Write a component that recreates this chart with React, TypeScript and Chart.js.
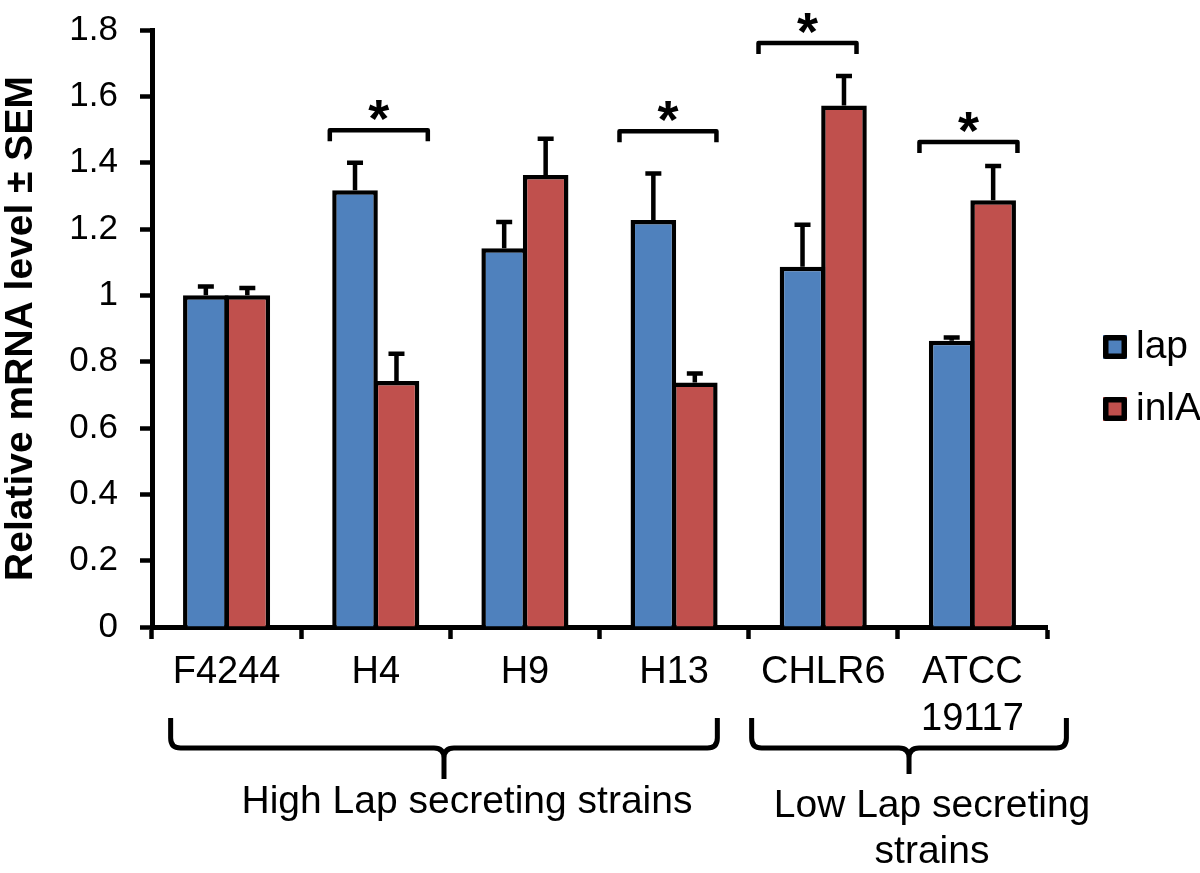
import React, { useEffect, useRef } from 'react';
import { Chart, registerables } from 'chart.js';

Chart.register(...registerables);

// ---------- data ----------
const categories: (string | string[])[] = ['F4244', 'H4', 'H9', 'H13', 'CHLR6', ['ATCC', '19117']];
const seriesNames = ['lap', 'inlA'];
const lapValues = [1.0, 1.317, 1.142, 1.227, 1.086, 0.863];
const inlAValues = [1.0, 0.742, 1.363, 0.737, 1.572, 1.287];
const lapSem = [0.027, 0.083, 0.079, 0.14, 0.127, 0.01];
const inlASem = [0.022, 0.082, 0.109, 0.027, 0.089, 0.103];
const yTickLabels = ['0', '0.2', '0.4', '0.6', '0.8', '1', '1.2', '1.4', '1.6', '1.8'];
const yTitle = 'Relative mRNA level \u00B1 SEM';
const sigIndex = [1, 3, 4, 5];
const sigLevel = [1.498, 1.495, 1.761, 1.462];
const sigMark = '*';
const groupLabels = [['High Lap secreting strains'], ['Low Lap secreting', 'strains']];
const groupFirst = [0, 4];
const groupLast = [3, 5];

// ---------- styles / layout ----------
const FONT = '"Liberation Sans", Arial, Helvetica, sans-serif';
const BLUE = '#4F81BD';
const RED = '#C0504D';
const sigSpans = [
  [-0.308, 0.349],
  [-0.366, 0.284],
  [-0.434, 0.223],
  [-0.355, 0.302],
];
const groupSpans = [
  [-0.375, 0.29],
  [-0.48, 0.63],
];
const groupTipDepth = [31, 26];

const annotationsPlugin = {
  id: 'annotations',
  afterDatasetsDraw(chart: any) {
    const ctx = chart.ctx as CanvasRenderingContext2D;
    const y = chart.scales.y;
    const sems = [lapSem, inlASem];
    ctx.save();
    ctx.strokeStyle = '#000';
    ctx.lineWidth = 4.5;
    chart.data.datasets.forEach((ds: any, di: number) => {
      const meta = chart.getDatasetMeta(di);
      meta.data.forEach((bar: any, i: number) => {
        const v = ds.data[i];
        const top = y.getPixelForValue(v);
        const errTop = y.getPixelForValue(v + sems[di][i]);
        ctx.beginPath();
        ctx.moveTo(bar.x, top);
        ctx.lineTo(bar.x, errTop);
        ctx.moveTo(bar.x - 8, errTop);
        ctx.lineTo(bar.x + 8, errTop);
        ctx.stroke();
      });
    });
    ctx.restore();
  },
  afterDraw(chart: any) {
    const ctx = chart.ctx as CanvasRenderingContext2D;
    const x = chart.scales.x;
    const y = chart.scales.y;
    const catW = x.getPixelForValue(1) - x.getPixelForValue(0);
    ctx.save();
    ctx.strokeStyle = '#000';
    ctx.fillStyle = '#000';
    ctx.lineWidth = 4.5;
    ctx.lineJoin = 'round';
    ctx.lineCap = 'butt';

    // significance brackets
    sigIndex.forEach((idx, k) => {
      const cx = x.getPixelForValue(idx);
      const l = cx + sigSpans[k][0] * catW;
      const r = cx + sigSpans[k][1] * catW;
      const yt = y.getPixelForValue(sigLevel[k]);
      ctx.beginPath();
      ctx.moveTo(l, yt + 11);
      ctx.lineTo(l, yt);
      ctx.lineTo(r, yt);
      ctx.lineTo(r, yt + 11);
      ctx.stroke();
      ctx.font = `bold 54px ${FONT}`;
      ctx.textAlign = 'center';
      ctx.textBaseline = 'alphabetic';
      ctx.fillText(sigMark, (l + r) / 2, yt + 7);
    });

    // group braces
    const axisBottom = chart.chartArea.bottom;
    groupLabels.forEach((lines, g) => {
      const x0 = x.getPixelForValue(groupFirst[g]) + groupSpans[g][0] * catW;
      const x1 = x.getPixelForValue(groupLast[g]) + groupSpans[g][1] * catW;
      const tip = (x0 + x1) / 2;
      const yTop = axisBottom + 91;
      const yMid = axisBottom + 121;
      const yTip = yMid + groupTipDepth[g];
      const rr = 10;
      ctx.lineWidth = 5;
      ctx.beginPath();
      ctx.moveTo(x0, yTop);
      ctx.lineTo(x0, yMid - rr);
      ctx.quadraticCurveTo(x0, yMid, x0 + rr, yMid);
      ctx.lineTo(tip - rr, yMid);
      ctx.quadraticCurveTo(tip, yMid, tip, yMid + rr);
      ctx.lineTo(tip, yTip);
      ctx.moveTo(x1, yTop);
      ctx.lineTo(x1, yMid - rr);
      ctx.quadraticCurveTo(x1, yMid, x1 - rr, yMid);
      ctx.lineTo(tip + rr, yMid);
      ctx.quadraticCurveTo(tip, yMid, tip, yMid + rr);
      ctx.stroke();

      ctx.font = `39px ${FONT}`;
      ctx.textAlign = 'center';
      ctx.textBaseline = 'alphabetic';
      lines.forEach((line, li) => {
        ctx.fillText(line, tip + 23, yTip + 34 + (g === 1 ? 9 : 0) + li * 46);
      });
    });

    // legend
    const lx = chart.chartArea.right + 56;
    const colors = [BLUE, RED];
    chart.data.datasets.forEach((ds: any, i: number) => {
      const cy = 346 + i * 62;
      ctx.fillStyle = colors[i];
      ctx.fillRect(lx, cy - 11, 24, 24);
      ctx.lineWidth = 5.5;
      ctx.strokeStyle = '#000';
      ctx.strokeRect(lx + 2.75, cy - 8.25, 18.5, 18.5);
      ctx.fillStyle = '#000';
      ctx.font = `39px ${FONT}`;
      ctx.textAlign = 'left';
      ctx.textBaseline = 'middle';
      ctx.fillText(ds.label, lx + 33, cy + 1);
    });
    ctx.restore();
  },
};

export default function App() {
  const ref = useRef<HTMLCanvasElement>(null);
  useEffect(() => {
    if (!ref.current) return;
    Chart.defaults.font.family = FONT;
    Chart.defaults.color = '#000';
    const chart = new Chart(ref.current, {
      type: 'bar',
      data: {
        labels: categories,
        datasets: [
          {
            label: seriesNames[0],
            data: lapValues,
            backgroundColor: BLUE,
            borderColor: '#000',
            borderWidth: 4.5,
            barPercentage: 1.1,
            categoryPercentage: 0.556,
          },
          {
            label: seriesNames[1],
            data: inlAValues,
            backgroundColor: RED,
            borderColor: '#000',
            borderWidth: 4.5,
            barPercentage: 1.1,
            categoryPercentage: 0.556,
          },
        ],
      },
      options: {
        responsive: false,
        animation: false,
        layout: { padding: { top: 30, right: 153, bottom: 0, left: 0 } },
        plugins: {
          legend: { display: false },
          tooltip: { enabled: false },
        },
        scales: {
          x: {
            afterFit: (s: any) => {
              s.height = 246;
            },
            grid: {
              display: true,
              drawOnChartArea: false,
              drawTicks: true,
              tickLength: 12,
              tickWidth: 4.5,
              tickColor: '#000',
              color: '#000',
              offset: true,
            },
            border: { display: true, color: '#000', width: 5 },
            ticks: {
              autoSkip: false,
              maxRotation: 0,
              minRotation: 0,
              padding: 10,
              color: '#000',
              font: { size: 38, family: FONT, lineHeight: 1.24 },
            },
          },
          y: {
            min: 0,
            max: 1.8,
            afterFit: (s: any) => {
              s.width = 152;
              s.paddingTop = 18;
              s.paddingBottom = 18;
            },
            grid: {
              display: true,
              drawOnChartArea: false,
              drawTicks: true,
              tickLength: 12,
              tickWidth: 4.5,
              tickColor: '#000',
              color: '#000',
            },
            border: { display: true, color: '#000', width: 5 },
            ticks: {
              stepSize: 0.2,
              padding: 22,
              color: '#000',
              font: { size: 35, family: FONT },
              callback: (_v: any, i: number) => yTickLabels[i],
            },
            title: {
              display: true,
              text: yTitle,
              color: '#000',
              padding: 0,
              font: { size: 39, weight: 'bold', family: FONT, lineHeight: 1.1 },
            },
          },
        },
      },
      plugins: [annotationsPlugin],
    });
    return () => chart.destroy();
  }, []);
  return (
    <div style={{ position: 'absolute', left: 0, top: 0, width: 1200, height: 873, background: '#fff' }}>
      <canvas ref={ref} width={1200} height={873} style={{ display: 'block' }} />
    </div>
  );
}
